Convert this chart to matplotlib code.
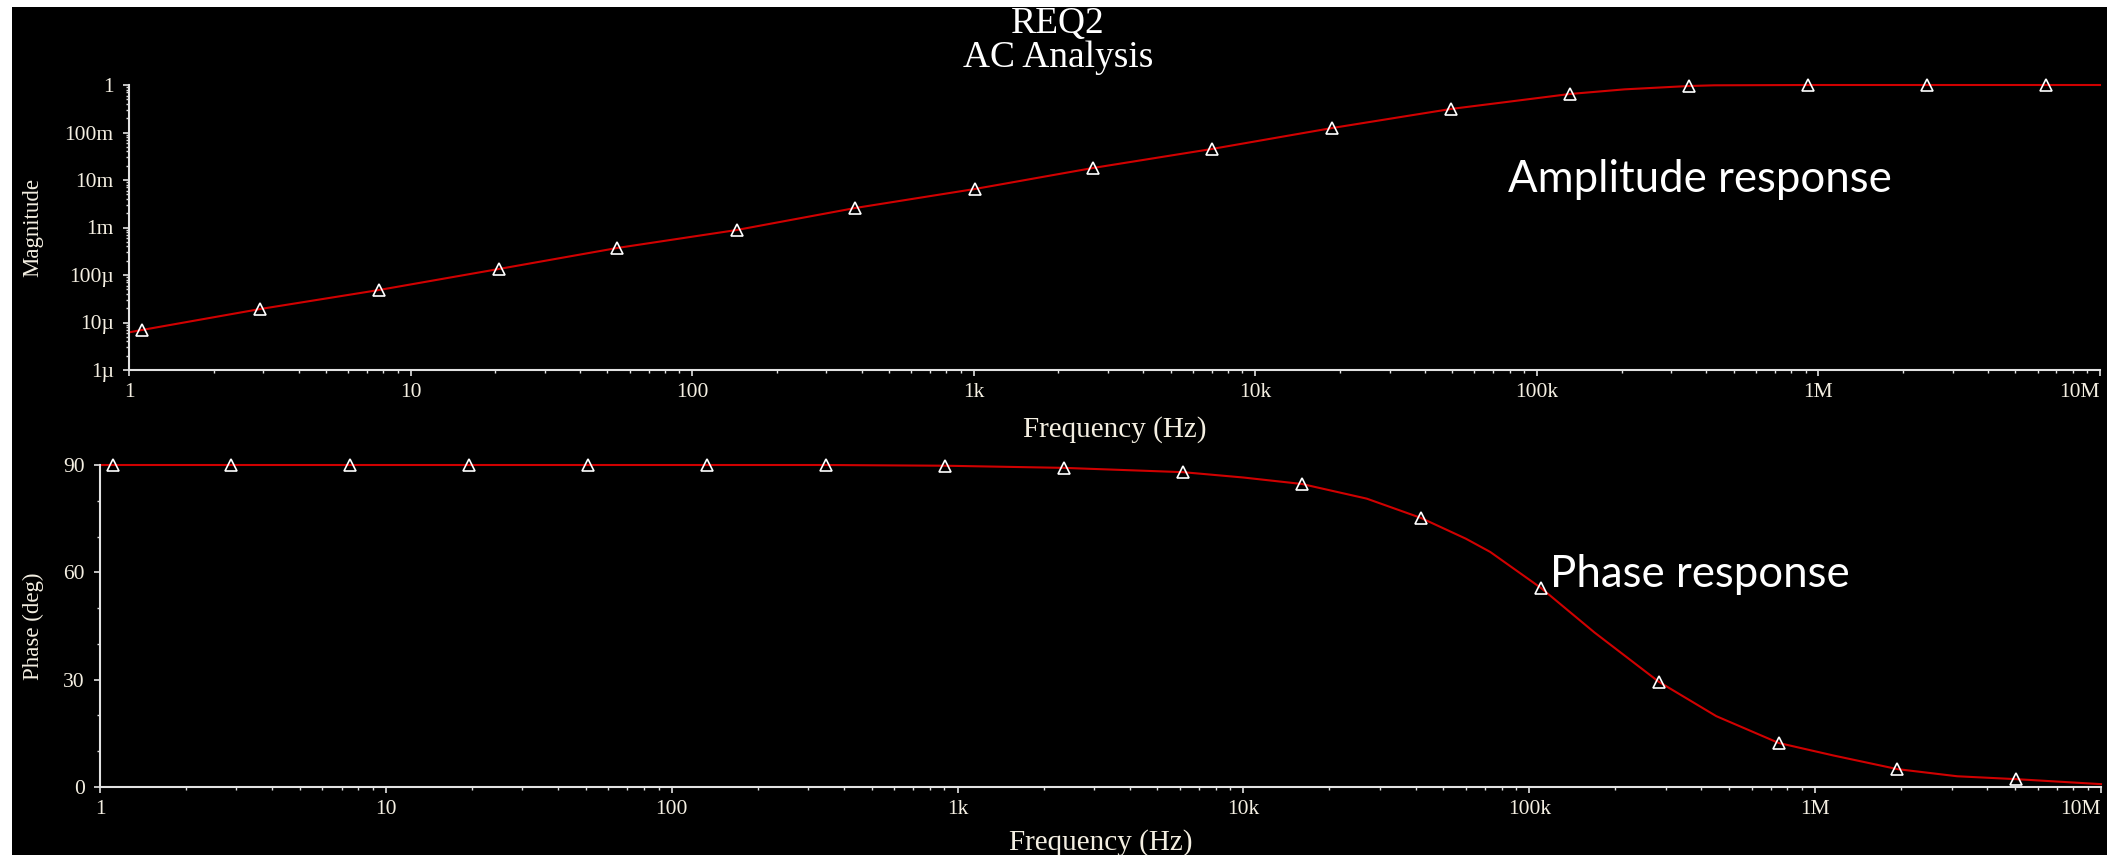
import matplotlib
matplotlib.use('Agg')
import matplotlib.pyplot as plt
from matplotlib.ticker import FixedLocator, FixedFormatter, LogLocator, MultipleLocator, NullFormatter
from matplotlib.patches import Rectangle

plt.rcParams['font.family'] = ['Liberation Serif', 'DejaVu Serif']

# ---------------- data ----------------
title_lines = ["REQ2", "AC Analysis"]

freq_ticks = [1, 10, 100, 1e3, 1e4, 1e5, 1e6, 1e7]
freq_tick_labels = ["1", "10", "100", "1k", "10k", "100k", "1M", "10M"]

mag_ticks = [1e-6, 1e-5, 1e-4, 1e-3, 1e-2, 1e-1, 1]
mag_tick_labels = ["1µ", "10µ", "100µ", "1m", "10m", "100m", "1"]

phase_ticks = [0, 30, 60, 90]
phase_tick_labels = ["0", "30", "60", "90"]

# magnitude trace markers
mag_marker_freq = [1.11, 2.92, 7.72, 20.6, 54.1, 144, 379, 1010, 2650, 7010,
                   18700, 49500, 131000, 347000, 917000, 2.43e6, 6.42e6]
mag_marker = [6.95e-6, 1.92e-5, 4.83e-5, 1.34e-4, 3.70e-4, 8.86e-4, 2.57e-3,
              6.47e-3, 0.0179, 0.045, 0.124, 0.313, 0.647, 0.953, 1.0, 1.0, 1.0]

# magnitude trace line (markers plus extra points)
mag_line_freq = [1, 1.11, 2.92, 7.72, 20.6, 54.1, 144, 379, 1010, 2650, 7010,
                 18700, 49500, 78300, 131000, 205000, 347000, 427000, 917000,
                 2.43e6, 6.42e6, 1e7]
mag_line = [6.2e-6, 6.95e-6, 1.92e-5, 4.83e-5, 1.34e-4, 3.70e-4, 8.86e-4,
            2.57e-3, 6.47e-3, 0.0179, 0.045, 0.124, 0.313, 0.44, 0.647, 0.81,
            0.953, 0.985, 1.0, 1.0, 1.0, 1.0]

# phase trace markers
phase_marker_freq = [1.11, 2.87, 7.49, 19.5, 50.9, 133, 346, 903, 2350, 6140,
                     16000, 41800, 110000, 284000, 746000, 1.94e6, 5.03e6]
phase_marker = [90, 90, 90, 90, 90, 90, 90, 89.8, 89.2, 88.0, 84.7, 75.2,
                55.6, 29.4, 12.3, 5.0, 2.2]

# phase trace line
phase_line_freq = [1, 1.11, 2.87, 7.49, 19.5, 50.9, 133, 346, 903, 2350, 6140,
                   10000, 16000, 27000, 41800, 60000, 73000, 110000, 169000,
                   284000, 451000, 746000, 1.16e6, 1.94e6, 3.14e6, 5.03e6, 1e7]
phase_line = [90, 90, 90, 90, 90, 90, 90, 90, 89.8, 89.2, 88.0, 86.5, 84.7,
              80.6, 75.2, 69.4, 65.7, 55.6, 43.2, 29.4, 19.8, 12.3, 8.8, 5.0,
              3.0, 2.2, 0.8]

# ---------------- figure ----------------
W, H = 2111, 857
fig = plt.figure(figsize=(W / 100, H / 100), dpi=100)
fig.patch.set_facecolor('black')

def fx(px):
    return px / W

def fy(py):
    return 1 - py / H

ax1 = fig.add_axes([fx(129), fy(370), fx(2100) - fx(129), fy(85) - fy(370)])
ax2 = fig.add_axes([fx(100), fy(787), fx(2101) - fx(100), fy(465) - fy(787)])

axis_col = '#e2e2e2'
label_col = '#f4efe2'
line_col = '#d00000'

for ax in (ax1, ax2):
    ax.set_facecolor('black')
    for s in ('top', 'right'):
        ax.spines[s].set_visible(False)
    for s in ('left', 'bottom'):
        ax.spines[s].set_color(axis_col)
        ax.spines[s].set_linewidth(1.5)
    ax.set_xscale('log')
    ax.set_xlim(1, 1e7)
    ax.xaxis.set_major_locator(FixedLocator(freq_ticks))
    ax.xaxis.set_major_formatter(FixedFormatter(freq_tick_labels))
    ax.xaxis.set_minor_locator(LogLocator(base=10, subs=range(2, 10), numticks=100))
    ax.xaxis.set_minor_formatter(NullFormatter())
    ax.tick_params(which='major', direction='out', length=4, width=1.2,
                   color=axis_col, labelcolor=label_col, labelsize=15.5)
    ax.tick_params(which='minor', direction='out', length=2, width=1.0,
                   color=axis_col)
    ax.tick_params(axis='x', which='major', pad=5)
    ax.tick_params(axis='y', which='major', pad=7)

# magnitude panel
ax1.set_yscale('log')
ax1.set_ylim(1e-6, 1)
ax1.yaxis.set_major_locator(FixedLocator(mag_ticks))
ax1.yaxis.set_major_formatter(FixedFormatter(mag_tick_labels))
ax1.yaxis.set_minor_locator(LogLocator(base=10, subs=range(2, 10), numticks=100))
ax1.yaxis.set_minor_formatter(NullFormatter())
ax1.plot(mag_line_freq, mag_line, color=line_col, lw=1.5, clip_on=False, zorder=2)
ax1.plot(mag_marker_freq, mag_marker, linestyle='none', marker='^', ms=8.5,
         mfc='none', mec='white', mew=1.2, clip_on=False, zorder=3)

# phase panel
ax2.set_ylim(0, 90)
ax2.yaxis.set_major_locator(FixedLocator(phase_ticks))
ax2.yaxis.set_major_formatter(FixedFormatter(phase_tick_labels))
ax2.yaxis.set_minor_locator(MultipleLocator(10))
ax2.plot(phase_line_freq, phase_line, color=line_col, lw=1.5, clip_on=False, zorder=2)
ax2.plot(phase_marker_freq, phase_marker, linestyle='none', marker='^', ms=8.5,
         mfc='none', mec='white', mew=1.2, clip_on=False, zorder=3)

# last x tick label ("10M") sits left of its tick, as in the screenshot
fig.canvas.draw()
for ax in (ax1, ax2):
    ax.get_xticklabels()[-1].set_horizontalalignment('right')
    ax.get_xticklabels()[-1].set_x(1e7)

# axis labels
ax1.set_xlabel('Frequency (Hz)', fontsize=21, color=label_col, va='center')
ax1.xaxis.set_label_coords(0.5, (370 - 430) / 285)
ax1.set_ylabel('Magnitude', fontsize=16.5, color=label_col, va='center')
ax1.yaxis.set_label_coords((33 - 129) / 1971, 0.5)

ax2.set_xlabel('Frequency (Hz)', fontsize=21, color=label_col, va='center')
ax2.xaxis.set_label_coords(0.5, (787 - 843) / 322)
ax2.set_ylabel('Phase (deg)', fontsize=16.5, color=label_col, va='center')
ax2.yaxis.set_label_coords((33 - 100) / 2001, 0.5)

# title
fig.text(fx(1058), fy(33), title_lines[0], ha='center', va='baseline',
         fontsize=27, color='white')
fig.text(fx(1058), fy(67), title_lines[1], ha='center', va='baseline',
         fontsize=27, color='white')

# annotations
fig.text(fx(1508), fy(192), 'Amplitude response', ha='left', va='baseline',
         fontsize=31.5, color='white', family=['Lato', 'DejaVu Sans'])
fig.text(fx(1550), fy(587), 'Phase response', ha='left', va='baseline',
         fontsize=31.5, color='white', family=['Lato', 'DejaVu Sans'])

# white frame around the screenshot
for (x0, y0, w, h) in [(0, 0, 12, H), (0, 0, W, 7), (2107, 0, W - 2107, H), (0, 855, W, H - 855)]:
    fig.add_artist(Rectangle((fx(x0), fy(y0 + h)), w / W, h / H,
                             transform=fig.transFigure, facecolor='white',
                             edgecolor='none', zorder=10))

fig.savefig('out.png', dpi=100, facecolor=fig.get_facecolor())
